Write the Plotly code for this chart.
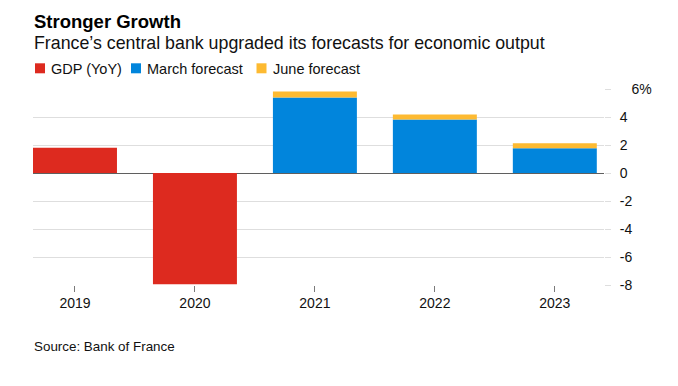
import plotly.graph_objects as go

# ---- data ----
years = ["2019", "2020", "2021", "2022", "2023"]
gdp_yoy = [1.8, -7.95, None, None, None]
march_forecast = [None, None, 5.4, 3.82, 1.76]
june_upgrade = [None, None, 0.42, 0.35, 0.36]   # June forecast increment on top of March
y_tickvals = [-8, -6, -4, -2, 0, 2, 4, 6]
y_ticktext = ["-8", "-6", "-4", "-2", "0", "2", "4", "\u00a0\u00a0\u00a06%"]

RED = "#dd2a1f"
BLUE = "#0185dc"
YELLOW = "#fdba31"
FONT = "Liberation Sans, Arial, sans-serif"

fig = go.Figure()
fig.add_bar(x=years, y=gdp_yoy, name="GDP (YoY)", marker=dict(color=RED, line=dict(width=0)), showlegend=False)
fig.add_bar(x=years, y=march_forecast, name="March forecast", marker=dict(color=BLUE, line=dict(width=0)), showlegend=False)
fig.add_bar(x=years, y=june_upgrade, name="June forecast", marker=dict(color=YELLOW, line=dict(width=0)), showlegend=False)

# page-pixel geometry (the HTML body adds an 8px margin)
OFF = 8
L, R, T, B = 33, 604, 89, 285
PW, PH = 678, 386
pw, ph = R - L, B - T

def px(x):
    return (x - L) / pw

def py(y):
    return (B - y) / ph

fig.update_layout(
    width=PW - OFF, height=PH - OFF,
    margin=dict(l=L - OFF, r=PW - R, t=T - OFF, b=PH - B, pad=0),
    paper_bgcolor="white", plot_bgcolor="white",
    barmode="relative", bargap=0.3,
    font=dict(family=FONT, color="#111111"),
    showlegend=False,
)
fig.update_xaxes(
    type="category", range=[-0.35, 4.41],
    showgrid=False, zeroline=False,
    showline=True, linecolor="white", linewidth=1,
    ticks="outside", ticklen=6, tickwidth=1, tickcolor="#7a7a7a",
    tickfont=dict(size=14, color="#111111", family=FONT),
    ticklabelstandoff=-1,
)
fig.update_yaxes(
    side="right", range=[-8, 6],
    tickvals=y_tickvals, ticktext=y_ticktext,
    showgrid=True, gridcolor="#dedede", gridwidth=1,
    zeroline=True, zerolinecolor="#5f5f5f", zerolinewidth=1,
    ticks="outside", ticklen=6, tickwidth=1, tickcolor="#dedede",
    tickfont=dict(size=14, color="#111111", family=FONT),
    ticklabelstandoff=6,
)

# Title, subtitle, legend, source
fig.add_annotation(text="<b>Stronger Growth</b>", xref="paper", yref="paper",
                   x=px(32), y=py(21), xanchor="left", yanchor="middle", showarrow=False,
                   font=dict(size=18.5, color="#000000", family=FONT))
fig.add_annotation(text="France\u2019s central bank upgraded its forecasts for economic output",
                   xref="paper", yref="paper", x=px(32), y=py(43), xanchor="left", yanchor="middle",
                   showarrow=False, font=dict(size=17.8, color="#111111", family=FONT))

legend_items = [("GDP (YoY)", RED, 35, 50), ("March forecast", BLUE, 131, 146), ("June forecast", YELLOW, 256.5, 272)]
for label, color, sx, tx in legend_items:
    fig.add_shape(type="rect", xref="paper", yref="paper",
                  x0=px(sx), x1=px(sx + 10), y0=py(73.3), y1=py(63.3),
                  fillcolor=color, line=dict(width=0))
    fig.add_annotation(text=label, xref="paper", yref="paper", x=px(tx - 1), y=py(69),
                       xanchor="left", yanchor="middle", showarrow=False,
                       font=dict(size=14.5, color="#111111", family=FONT))

fig.add_annotation(text="Source: Bank of France", xref="paper", yref="paper",
                   x=px(32), y=py(346.5), xanchor="left", yanchor="middle", showarrow=False,
                   font=dict(size=13.4, color="#111111", family=FONT))

fig.write_html("out.html")
